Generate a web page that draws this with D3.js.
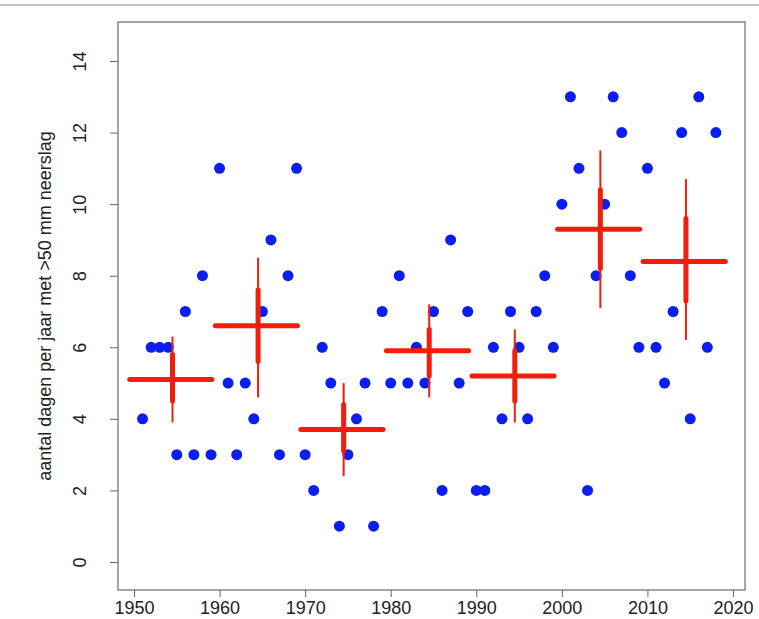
<!DOCTYPE html>
<html><head><meta charset="utf-8">
<script src="https://cdn.jsdelivr.net/npm/d3@7"></script>
<style>body{margin:0;background:#fff}</style>
</head><body>
<svg id="c" width="759" height="619"></svg>
<script>
// jaren en aantal dagen >50 mm
var jaren = d3.range(1951, 2019);
var dagen = [4,6,6,6,3,7,3,8,3,11,5,3,5,4,7,9,3,8,11,3,2,6,5,1,3,4,5,1,7,5,8,5,6,5,7,2,9,5,7,2,2,6,4,7,6,4,7,8,6,10,13,11,2,8,10,13,12,8,6,11,6,5,7,12,4,13,6,12];
// decennia: gemiddelde en intervallen
var decennia = [1950,1960,1970,1980,1990,2000,2010];
var gemiddeld = [5.1,6.6,3.7,5.9,5.2,9.3,8.4];
var dikLaag = [4.5,5.6,3.1,5.2,4.5,8.2,7.3];
var dikHoog = [5.8,7.6,4.4,6.5,5.9,10.4,9.6];
var dunLaag = [3.9,4.6,2.4,4.6,3.9,7.1,6.2];
var dunHoog = [6.3,8.5,5.0,7.2,6.5,11.5,10.7];

var svg = d3.select("#c");
var x = d3.scaleLinear().domain([1950,2020]).range([134,733]);
var y = d3.scaleLinear().domain([0,14]).range([562,61]);

svg.append("line").attr("x1",0).attr("x2",759).attr("y1",5).attr("y2",5).attr("stroke","#888");
svg.append("rect").attr("x",118).attr("y",22).attr("width",627).attr("height",568)
  .attr("fill","none").attr("stroke","#888").attr("stroke-width",1.5);

var fnt = "Liberation Sans, Arial, sans-serif";
var ax = svg.append("g").attr("transform","translate(0,590)")
  .call(d3.axisBottom(x).tickValues(d3.range(1950,2021,10)).tickFormat(d3.format("d")).tickSize(7).tickPadding(4));
var ay = svg.append("g").attr("transform","translate(118,0)")
  .call(d3.axisLeft(y).tickValues(d3.range(0,15,2)).tickSize(8).tickPadding(6));
[ax, ay].forEach(function(a){
  a.select(".domain").remove();
  a.selectAll("line").attr("stroke","#666");
  a.selectAll("text").attr("font-family",fnt).attr("font-size",18).attr("fill","#222");
});
// y-labels verticaal zoals in R
ay.selectAll("text").attr("x",0).attr("y",-32).attr("dy",0)
  .attr("text-anchor","middle").attr("transform","rotate(-90)");

svg.append("text").attr("transform","translate(51,306) rotate(-90)").attr("text-anchor","middle")
  .attr("font-family",fnt).attr("font-size",18).attr("fill","#222")
  .text("aantal dagen per jaar met >50 mm neerslag");

svg.append("g").selectAll("circle").data(jaren).join("circle")
  .attr("cx", function(d){ return x(d); })
  .attr("cy", function(d,i){ return y(dagen[i]); })
  .attr("r",5.5).attr("fill","#0a1ef0");

var g = svg.append("g").attr("stroke","#f01e0a");
decennia.forEach(function(d,i){
  var cx = x(d+4.5);
  g.append("line").attr("x1",x(d-0.5)).attr("x2",x(d+9.1)).attr("y1",y(gemiddeld[i])).attr("y2",y(gemiddeld[i])).attr("stroke-width",5).attr("stroke-linecap","round");
  g.append("line").attr("x1",cx).attr("x2",cx).attr("y1",y(dunLaag[i])).attr("y2",y(dunHoog[i])).attr("stroke-width",2);
  g.append("line").attr("x1",cx).attr("x2",cx).attr("y1",y(dikLaag[i])).attr("y2",y(dikHoog[i])).attr("stroke-width",5).attr("stroke-linecap","round");
});
</script>
</body></html>
